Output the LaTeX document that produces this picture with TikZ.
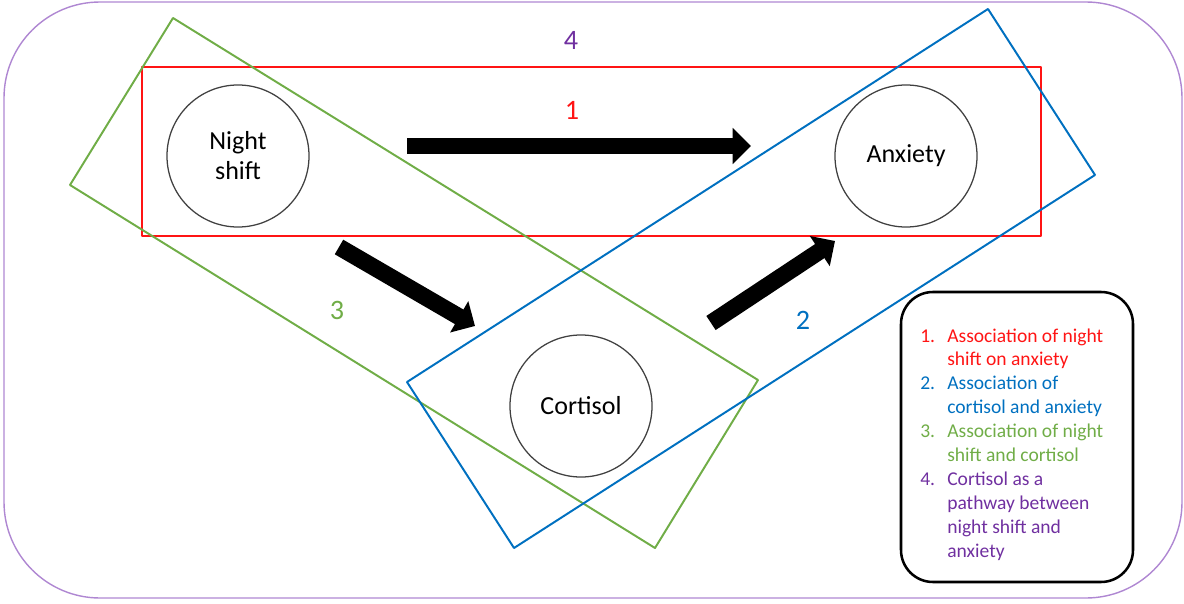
\documentclass[tikz,border=0pt]{standalone}
\usepackage{fontspec}
\setmainfont{Carlito}
\usepackage{tikz}
\usetikzlibrary{arrows.meta}
\definecolor{ored}{RGB}{255,20,20}
\definecolor{oblue}{RGB}{0,112,192}
\definecolor{ogreen}{RGB}{112,173,71}
\definecolor{opurple}{RGB}{112,48,160}
\definecolor{lpurple}{RGB}{175,135,210}
\newcommand{\keynum}[2]{\makebox[19.2pt][l]{\color{#1}#2}}

\begin{document}
\begin{tikzpicture}[x=0.025cm,y=-0.025cm,line join=round,
  var/.style={circle,draw=black!75,line width=0.9pt,minimum size=3.55cm,inner sep=0pt,
    align=center,font=\fontsize{18.5}{21.3}\selectfont},
  blockarrow/.style={line width=12pt,-{Triangle[length=13pt,width=25pt]}},
  num/.style={font=\fontsize{20}{24}\selectfont}]
  \useasboundingbox (0,0) rectangle (1184,604);
  % outer frame for the whole pathway
  \draw[lpurple,line width=1pt,rounded corners=2.4cm] (4,2) rectangle (1182,598);
  \node[num,text=opurple] (lab4) at (571,40) {4};

  % the three variables
  \node[var] (nshift) at (238,156) {Night\\shift};
  \node[var] (anxiety) at (906,156) {Anxiety};
  \node[var] (cortisol) at (581,406) {Cortisol};

  % boxes around each association
  \draw[ored,line width=1.8pt] (142,67) rectangle (1041,236);
  \draw[ogreen,line width=1.4pt] (173,18) -- (758,380) -- (655,548) -- (70,185) -- cycle;
  \draw[oblue,line width=1.4pt] (988,9) -- (1095,175) -- (514,548) -- (407,382) -- cycle;
  \node[num,text=ored] (lab1) at (572,110) {1};
  \node[num,text=ogreen] (lab3) at (337,310) {3};
  \node[num,text=oblue] (lab2) at (803,320) {2};

  % arrows between the variables
  \coordinate (h-tail) at (407,146);
  \coordinate (h-tip) at (751,146);
  \coordinate (d1-tail) at (339,247);
  \coordinate (d1-tip) at (475,326);
  \coordinate (d2-tail) at (711,323);
  \coordinate (d2-tip) at (835,241);
  \draw[blockarrow] (h-tail) -- (h-tip);
  \draw[blockarrow] (d1-tail) -- (d1-tip);
  \draw[blockarrow] (d2-tail) -- (d2-tip);

  % key
  \draw[black,line width=1.8pt,rounded corners=0.8cm] (901,292) rectangle (1133,582);
  \node[anchor=north west,inner sep=0pt,font=\fontsize{13.9}{17}\selectfont] (key) at (920,325) {%
    \begin{tabular}{@{}l@{}l@{}}
      \keynum{ored}{1.} & \color{ored}Association of night\\
       & \color{ored}shift on anxiety\\
      \keynum{oblue}{2.} & \color{oblue}Association of\\
       & \color{oblue}cortisol and anxiety\\
      \keynum{ogreen}{3.} & \color{ogreen}Association of night\\
       & \color{ogreen}shift and cortisol\\
      \keynum{opurple}{4.} & \color{opurple}Cortisol as a\\
       & \color{opurple}pathway between\\
       & \color{opurple}night shift and\\
       & \color{opurple}anxiety
    \end{tabular}};
\end{tikzpicture}
\end{document}
